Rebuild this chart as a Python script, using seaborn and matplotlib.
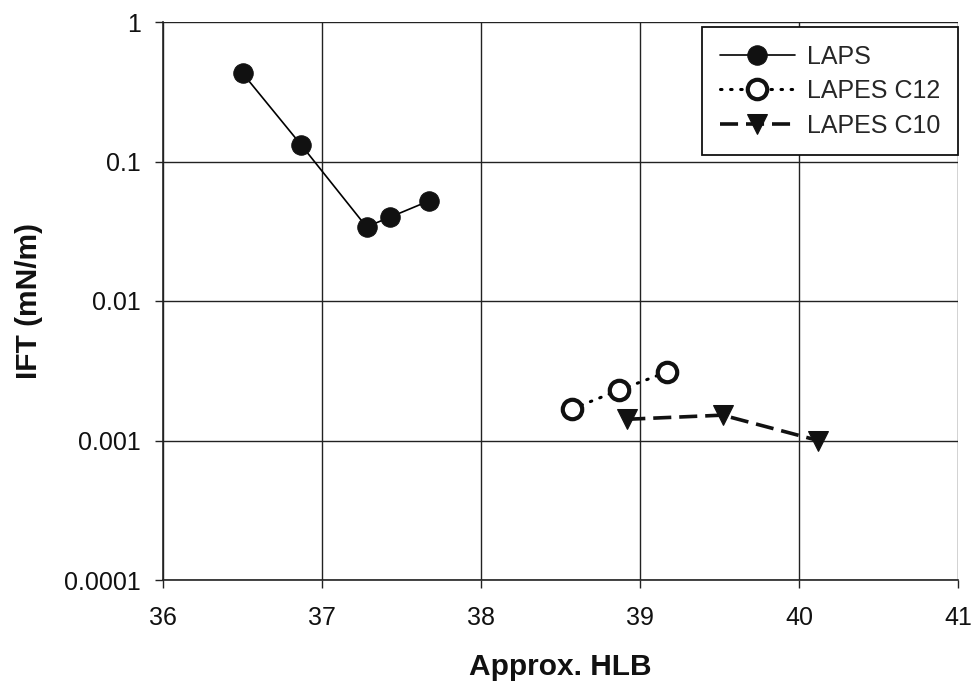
import matplotlib
matplotlib.use("Agg")
import matplotlib.pyplot as plt
import seaborn as sns
import pandas as pd
from matplotlib.ticker import FixedLocator, FixedFormatter, NullLocator

# HLB vs interfacial tension for three surfactant series
laps_hlb = [36.50, 36.87, 37.28, 37.43, 37.67]
laps_ift = [0.43, 0.131, 0.034, 0.040, 0.052]

c12_hlb = [38.57, 38.87, 39.17]
c12_ift = [0.00168, 0.0023, 0.0031]

c10_hlb = [38.92, 39.52, 40.12]
c10_ift = [0.00142, 0.00152, 0.00100]

x_ticks = [36, 37, 38, 39, 40, 41]
y_ticks = [0.0001, 0.001, 0.01, 0.1, 1]
y_tick_labels = ["0.0001", "0.001", "0.01", "0.1", "1"]

sns.set_theme(style="white")
plt.rcParams["font.family"] = ["Liberation Sans", "DejaVu Sans"]

fig = plt.figure(figsize=(9.74, 6.85), dpi=100)
ax = fig.add_axes([163 / 974, 1 - 580 / 685, (958 - 163) / 974, (580 - 22) / 685])

laps = pd.DataFrame({"hlb": laps_hlb, "ift": laps_ift})
c12 = pd.DataFrame({"hlb": c12_hlb, "ift": c12_ift})
c10 = pd.DataFrame({"hlb": c10_hlb, "ift": c10_ift})

sns.lineplot(data=laps, x="hlb", y="ift", ax=ax, sort=False, color="black",
             linewidth=1.2, marker="o", markersize=14, markerfacecolor="#111111",
             markeredgecolor="#111111", label="LAPS", zorder=5)
sns.lineplot(data=c12, x="hlb", y="ift", ax=ax, sort=False, color="black",
             linewidth=2.2, linestyle=(0, (0.5, 2.8)), dash_capstyle="round",
             marker="o", markersize=14, markerfacecolor="white",
             markeredgecolor="#111111", markeredgewidth=3, label="LAPES C12", zorder=5)
sns.lineplot(data=c10, x="hlb", y="ift", ax=ax, sort=False, color="#111111",
             linewidth=2.6, linestyle=(0, (5, 2.2)),
             marker="v", markersize=14, markerfacecolor="#111111",
             markeredgecolor="#111111", label="LAPES C10", zorder=5)

ax.set_yscale("log")
ax.set_xlim(36, 41)
ax.set_ylim(0.0001, 1)
ax.xaxis.set_major_locator(FixedLocator(x_ticks))
ax.set_xticklabels([str(t) for t in x_ticks])
ax.yaxis.set_major_locator(FixedLocator(y_ticks))
ax.yaxis.set_major_formatter(FixedFormatter(y_tick_labels))
ax.yaxis.set_minor_locator(NullLocator())

ax.grid(True, which="major", color="#222222", linewidth=1.0)
ax.set_axisbelow(True)
for side in ["top", "right"]:
    ax.spines[side].set_visible(False)
for side in ["left", "bottom"]:
    ax.spines[side].set_color("#222222")
    ax.spines[side].set_linewidth(1.2)

ax.tick_params(axis="both", which="major", direction="out", length=6, width=1.0,
               color="#222222", labelsize=18, labelcolor="#111111",
               bottom=True, left=True)
ax.tick_params(axis="y", pad=10)
ax.tick_params(axis="x", pad=13)

ax.set_xlabel("Approx. HLB", fontsize=21.5, fontweight="bold", labelpad=16, color="#111111")
ax.set_ylabel("IFT (mN/m)", fontsize=21.5, fontweight="bold", labelpad=15, color="#111111")

leg = ax.legend(loc="upper right", bbox_to_anchor=(1.0, 0.991), fontsize=18,
                frameon=True, fancybox=False, borderpad=0.7, handlelength=3.0,
                handletextpad=0.5, labelspacing=0.42, borderaxespad=0.0)
leg.get_frame().set_edgecolor("#111111")
leg.get_frame().set_linewidth(1.3)
leg.get_frame().set_facecolor("white")
leg.get_frame().set_alpha(1.0)

fig.savefig("out.png", dpi=100, facecolor="white")
